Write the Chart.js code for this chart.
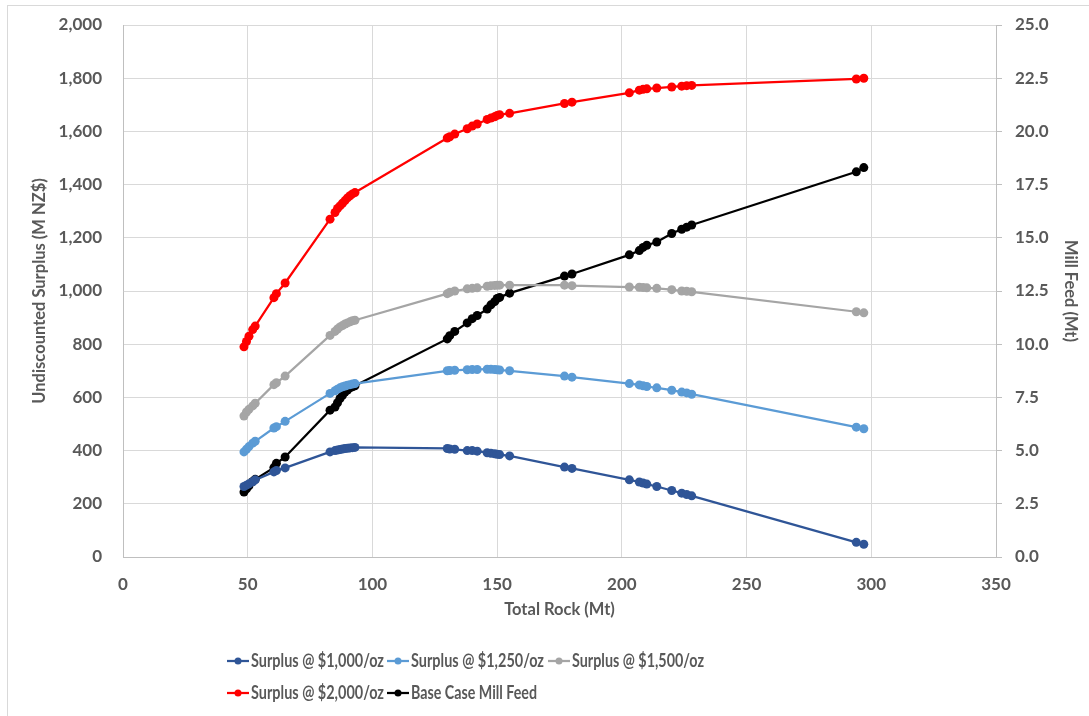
<!DOCTYPE html>
<html>
<head>
<meta charset="utf-8">
<script src="https://cdn.jsdelivr.net/npm/chart.js@4/dist/chart.umd.min.js"></script>
<style>
  html, body { margin: 0; padding: 0; background: #fff; }
  #wrap { width: 1089px; height: 716px; }
</style>
</head>
<body>
<div id="wrap"><canvas id="c" width="1089" height="716"></canvas></div>
<script>
// Total rock per pit shell (Mt), shared by every series
const totalRock = [48.5, 49.5, 50.5, 52, 53, 60.5, 61.5, 65, 83, 85, 86, 87, 88, 89, 90, 91, 92, 93,
  130, 131, 133, 138, 140, 142, 146, 147.5, 149, 150, 151, 155, 177, 180,
  203, 207, 208.5, 210, 214, 220, 224, 226, 228, 294, 297];

// Undiscounted surplus (M NZ$) at each gold price
const surplus1000 = [265, 270, 275, 283, 290, 320, 325, 335, 395, 400, 402, 404, 406, 408, 409, 410, 411, 412,
  408, 406, 405, 400, 400, 398, 392, 390, 388, 386, 385, 380, 338, 333,
  290, 282, 278, 274, 265, 250, 240, 235, 230, 55, 48];
const surplus1250 = [395, 405, 415, 428, 435, 485, 490, 510, 615, 625, 631, 636, 640, 643, 646, 648, 650, 652,
  700, 701, 702, 704, 705, 705, 706, 706, 705, 704, 703, 700, 680, 676,
  652, 647, 644, 641, 636, 627, 620, 617, 612, 488, 482];
const surplus1500 = [530, 545, 555, 568, 578, 648, 655, 680, 833, 848, 857, 865, 870, 876, 880, 884, 888, 890,
  990, 995, 1000, 1008, 1010, 1012, 1018, 1020, 1021, 1022, 1022, 1022, 1022, 1020,
  1015, 1014, 1013, 1012, 1010, 1005, 1000, 999, 997, 922, 918];
const surplus2000 = [790, 810, 830, 855, 868, 975, 990, 1030, 1270, 1295, 1310, 1320, 1330, 1340, 1350, 1358, 1365, 1370,
  1575, 1580, 1590, 1610, 1620, 1628, 1645, 1650, 1655, 1660, 1663, 1668, 1705, 1710,
  1745, 1755, 1758, 1760, 1763, 1767, 1770, 1772, 1773, 1797, 1800];

// Base case mill feed (Mt), right axis
const millFeed = [3.05, 3.2, 3.35, 3.55, 3.65, 4.2, 4.4, 4.7, 6.9, 7.05, 7.25, 7.45, 7.6, 7.75, 7.85, 7.95, 8.0, 8.05,
  10.25, 10.4, 10.6, 11.0, 11.2, 11.35, 11.65, 11.85, 12.0, 12.15, 12.2, 12.4, 13.2, 13.3,
  14.2, 14.4, 14.55, 14.65, 14.8, 15.2, 15.4, 15.5, 15.6, 18.1, 18.3];

const seriesNames = ['Surplus @ $1,000/oz', 'Surplus @ $1,250/oz', 'Surplus @ $1,500/oz',
  'Surplus @ $2,000/oz', 'Base Case Mill Feed'];

const FONT = 'Lato, "Open Sans", sans-serif';
const TXT = '#595959';
const AXIS = '#BFBFBF';
const GRID = '#D9D9D9';

function pts(ys) {
  return totalRock.map((x, i) => ({ x: x, y: ys[i] }));
}

function series(label, ys, color, axis) {
  return {
    label: label,
    data: pts(ys),
    yAxisID: axis,
    borderColor: color,
    backgroundColor: color,
    borderWidth: 2.25,
    pointRadius: 4.5,
    pointHoverRadius: 4.5,
    pointBorderWidth: 0,
    tension: 0
  };
}

// Legend drawn by hand: two left-aligned rows in fixed columns, like Excel
const bottomLegend = {
  id: 'bottomLegend',
  afterDraw(chart) {
    const ctx = chart.ctx;
    const rows = [[0, 1, 2], [3, 4]];
    const rowY = [661, 693];
    const colX = [227, 387, 548];
    const textW = [133, 133, 132, 133, 126]; // the reference font is narrow
    ctx.save();
    ctx.font = 'bold 18px ' + FONT;
    ctx.textBaseline = 'middle';
    rows.forEach((row, r) => {
      row.forEach((i, c) => {
        const ds = chart.data.datasets[i];
        const x = colX[c];
        const y = rowY[r];
        ctx.strokeStyle = ds.borderColor;
        ctx.lineWidth = 2.25;
        ctx.beginPath();
        ctx.moveTo(x, y);
        ctx.lineTo(x + 22, y);
        ctx.stroke();
        ctx.fillStyle = ds.borderColor;
        ctx.beginPath();
        ctx.arc(x + 11, y, 3.5, 0, Math.PI * 2);
        ctx.fill();
        ctx.fillStyle = TXT;
        ctx.fillText(ds.label, x + 24, y, textW[i]);
      });
    });
    ctx.restore();
  }
};

// Thin outer frame of the chart object (only top and left are inside the picture)
const outerFrame = {
  id: 'outerFrame',
  beforeDraw(chart) {
    const ctx = chart.ctx;
    ctx.save();
    ctx.strokeStyle = GRID;
    ctx.lineWidth = 1;
    ctx.strokeRect(7.5, 5.5, 1200, 800);
    ctx.restore();
  }
};

const tickFont = { family: FONT, size: 17, weight: 'bold' };
const titleFont = { family: FONT, size: 16.5, weight: 'bold' };

new Chart(document.getElementById('c'), {
  type: 'line',
  data: {
    datasets: [
      series(seriesNames[0], surplus1000, '#2F5597', 'y'),
      series(seriesNames[1], surplus1250, '#5B9BD5', 'y'),
      series(seriesNames[2], surplus1500, '#A5A5A5', 'y'),
      series(seriesNames[3], surplus2000, '#FF0000', 'y'),
      series(seriesNames[4], millFeed, '#000000', 'y2')
    ]
  },
  options: {
    responsive: false,
    animation: false,
    layout: { padding: { top: 25, bottom: 92, left: 26, right: 5 } },
    plugins: {
      legend: { display: false },
      tooltip: { enabled: false }
    },
    scales: {
      x: {
        type: 'linear',
        min: 0, max: 350,
        ticks: { stepSize: 50, color: TXT, padding: 17, font: tickFont },
        grid: { color: GRID, lineWidth: 1, drawTicks: false },
        border: { display: true, color: AXIS },
        title: { display: true, text: 'Total Rock (Mt)', color: TXT, font: titleFont },
        afterFit(s) { s.height = 67; }
      },
      y: {
        position: 'left',
        min: 0, max: 2000,
        ticks: { stepSize: 200, color: TXT, padding: 8, font: tickFont,
                 callback: v => v.toLocaleString('en-US') },
        // invisible tick marks keep the labels away from the plot without padding the top
        grid: { color: GRID, lineWidth: 1, drawTicks: true, tickLength: 13, tickColor: 'rgba(0,0,0,0)' },
        border: { display: true, color: AXIS },
        title: { display: true, text: 'Undiscounted Surplus (M NZ$)', color: TXT, font: titleFont },
        afterFit(s) { s.width = 97; }
      },
      y2: {
        position: 'right',
        min: 0, max: 25,
        ticks: { stepSize: 2.5, color: TXT, padding: 13, font: tickFont,
                 callback: v => v.toFixed(1) },
        grid: { drawOnChartArea: false, drawTicks: true, tickLength: 6, color: AXIS },
        border: { display: true, color: AXIS },
        title: { display: true, text: 'Mill Feed (Mt)', color: TXT, font: titleFont },
        afterFit(s) { s.width = 88; }
      }
    }
  },
  plugins: [outerFrame, bottomLegend]
});
</script>
</body>
</html>
